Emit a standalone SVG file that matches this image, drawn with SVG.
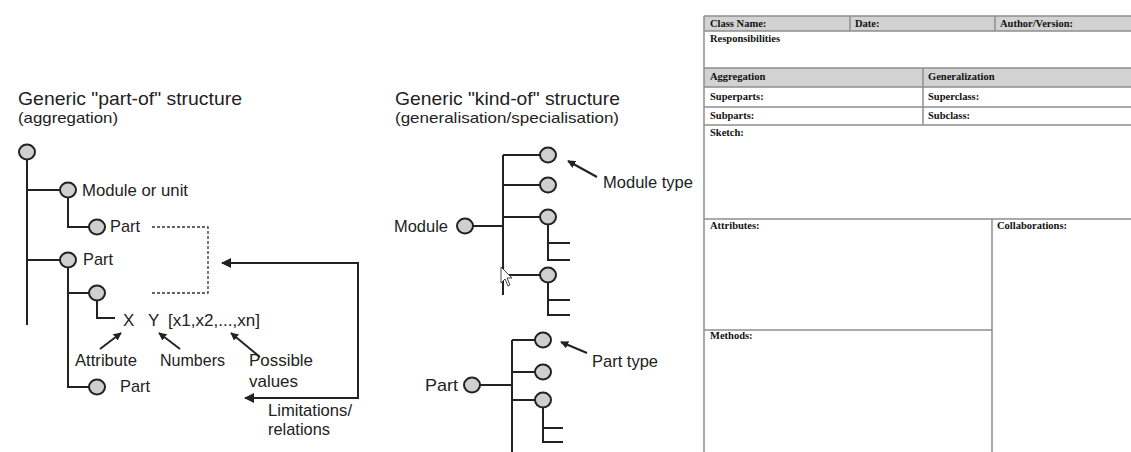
<svg xmlns="http://www.w3.org/2000/svg" width="1131" height="452" viewBox="0 0 1131 452">
<defs>
<style>
.ln{stroke:#222;stroke-width:2;fill:none}
.nd{fill:#cfcfcf;stroke:#222;stroke-width:2}
.t{font-family:"Liberation Sans",Arial,sans-serif;fill:#222}
.lb{font-size:17px}
.h1{font-size:19px}
.h2{font-size:15px}
.tb{font-family:"Liberation Serif","Times New Roman",serif;font-weight:bold;font-size:10.5px;fill:#111}
.grid{stroke:#8e8e8e;stroke-width:1.5;fill:none}
.hdr{fill:#d2d2d2}
</style>
<marker id="ah" viewBox="0 0 10 10" refX="9" refY="5" markerWidth="8" markerHeight="8" orient="auto-start-reverse" markerUnits="userSpaceOnUse">
<path d="M0 0 L10 5 L0 10 z" fill="#222"/>
</marker>
<marker id="ah2" viewBox="0 0 10 10" refX="9" refY="5" markerWidth="14" markerHeight="10" orient="auto-start-reverse" markerUnits="userSpaceOnUse">
<path d="M0 0 L10 5 L0 10 z" fill="#222"/>
</marker>
</defs>
<rect width="1131" height="452" fill="#fff"/>

<!-- Part-of structure -->
<g id="partof-title">
<text class="t h1" x="18" y="105" textLength="224" lengthAdjust="spacingAndGlyphs">Generic "part-of" structure</text>
<text class="t h2" x="18" y="123" textLength="100" lengthAdjust="spacingAndGlyphs">(aggregation)</text>
</g>
<g id="connectors">
<path class="ln" d="M27 159 V325"/>
<path class="ln" d="M27 190 H60"/>
<path class="ln" d="M68 197 V227 H89"/>
<path class="ln" d="M27 260 H60"/>
<path class="ln" d="M68 267 V387 H89"/>
<path class="ln" d="M68 293 H89"/>
<path class="ln" d="M97 300 V318 H115"/>
<path d="M152 227 H208 V293 H152" fill="none" stroke="#333" stroke-width="1.3" stroke-dasharray="3,2"/>
<path class="ln" d="M222 263 H358 V398 H245" marker-start="url(#ah2)" marker-end="url(#ah2)"/>
<path class="ln" d="M100 349 L121 333" marker-end="url(#ah)"/>
<path class="ln" d="M180 349 L159 333" marker-end="url(#ah)"/>
<path class="ln" d="M260 357 L231 333" marker-end="url(#ah)"/>
<!-- kind-of: module -->
<path class="ln" d="M503 155 V295"/>
<path class="ln" d="M503 155 H540"/>
<path class="ln" d="M503 185 H540"/>
<path class="ln" d="M503 217 H540"/>
<path class="ln" d="M503 275 H540"/>
<path class="ln" d="M473 226 H503"/>
<path class="ln" d="M548 225 V260 H570 M548 243 H570"/>
<path class="ln" d="M548 283 V315 H570 M548 300 H570"/>
<path class="ln" d="M597 177 L568 161" marker-end="url(#ah)"/>
<!-- kind-of: part -->
<path class="ln" d="M512 340 V452"/>
<path class="ln" d="M512 340 H535"/>
<path class="ln" d="M512 372 H535"/>
<path class="ln" d="M512 400 H535"/>
<path class="ln" d="M480 385 H512"/>
<path class="ln" d="M543 408 V442 H563 M543 428 H563"/>
<path class="ln" d="M587 353 L561 342" marker-end="url(#ah)"/>
</g>

<g id="n-root"><ellipse class="nd" cx="27" cy="152" rx="8" ry="7.5"/></g>
<g id="n-module"><ellipse class="nd" cx="68" cy="190" rx="8" ry="7.5"/><text class="t lb" x="82" y="196" textLength="106" lengthAdjust="spacingAndGlyphs">Module or unit</text></g>
<g id="n-part1"><ellipse class="nd" cx="97" cy="227" rx="8" ry="7.5"/><text class="t lb" x="110" y="232" textLength="30" lengthAdjust="spacingAndGlyphs">Part</text></g>
<g id="n-part2"><ellipse class="nd" cx="68" cy="260" rx="8" ry="7.5"/><text class="t lb" x="83" y="265" textLength="30" lengthAdjust="spacingAndGlyphs">Part</text></g>
<g id="n-attr"><ellipse class="nd" cx="97" cy="293" rx="8" ry="7.5"/>
<text class="t lb" x="123" y="326">X</text><text class="t lb" x="148" y="326">Y</text><text class="t lb" x="168" y="326" textLength="92" lengthAdjust="spacingAndGlyphs">[x1,x2,...,xn]</text></g>
<g id="n-part3"><ellipse class="nd" cx="97" cy="387" rx="8" ry="7.5"/><text class="t lb" x="120" y="392" textLength="30" lengthAdjust="spacingAndGlyphs">Part</text></g>
<g id="labels-partof">
<text class="t lb" x="75" y="366" textLength="62" lengthAdjust="spacingAndGlyphs">Attribute</text>
<text class="t lb" x="160" y="366" textLength="65" lengthAdjust="spacingAndGlyphs">Numbers</text>
<text class="t lb" x="249" y="366" textLength="64" lengthAdjust="spacingAndGlyphs">Possible</text>
<text class="t lb" x="249" y="387" textLength="49" lengthAdjust="spacingAndGlyphs">values</text>
<text class="t lb" x="268" y="416" textLength="84" lengthAdjust="spacingAndGlyphs">Limitations/</text>
<text class="t lb" x="268" y="435" textLength="62" lengthAdjust="spacingAndGlyphs">relations</text>
</g>

<!-- Kind-of structure -->
<g id="kindof-title">
<text class="t h1" x="395" y="105" textLength="225" lengthAdjust="spacingAndGlyphs">Generic "kind-of" structure</text>
<text class="t h2" x="395" y="123" textLength="224" lengthAdjust="spacingAndGlyphs">(generalisation/specialisation)</text>
</g>
<g id="k-module"><ellipse class="nd" cx="465" cy="226" rx="8" ry="7.5"/><text class="t lb" x="394" y="232" textLength="54" lengthAdjust="spacingAndGlyphs">Module</text></g>
<g id="k-mt1"><ellipse class="nd" cx="548" cy="155" rx="8" ry="7.5"/></g>
<g id="k-mt2"><ellipse class="nd" cx="548" cy="185" rx="8" ry="7.5"/></g>
<g id="k-mt3"><ellipse class="nd" cx="548" cy="217" rx="8" ry="7.5"/></g>
<g id="k-mt4"><ellipse class="nd" cx="548" cy="275" rx="8" ry="7.5"/></g>
<g id="k-mtlabel"><text class="t lb" x="603" y="188" textLength="90" lengthAdjust="spacingAndGlyphs">Module type</text></g>
<g id="k-part"><ellipse class="nd" cx="472" cy="385" rx="8" ry="7.5"/><text class="t lb" x="425" y="391" textLength="33" lengthAdjust="spacingAndGlyphs">Part</text></g>
<g id="k-pt1"><ellipse class="nd" cx="543" cy="340" rx="8" ry="7.5"/></g>
<g id="k-pt2"><ellipse class="nd" cx="543" cy="372" rx="8" ry="7.5"/></g>
<g id="k-pt3"><ellipse class="nd" cx="543" cy="400" rx="8" ry="7.5"/></g>
<g id="k-ptlabel"><text class="t lb" x="592" y="367" textLength="66" lengthAdjust="spacingAndGlyphs">Part type</text></g>
<g id="cursor"><path d="M501 267 V283 L505 279 L508 286 L510 285 L507 278 L512 278 Z" fill="#fff" stroke="#333" stroke-width="0.9"/></g>

<!-- CRC-like card -->
<g id="card">
<rect class="hdr" x="704" y="16" width="430" height="15"/>
<rect class="hdr" x="704" y="68" width="430" height="19"/>
<path class="grid" d="M704 16 H1134 M704 31 H1134 M704 68 H1134 M704 87 H1134 M704 107 H1134 M704 125 H1134 M704 219 H1134 M704 330 H992 M704 16 V452 M850 16 V31 M995 16 V31 M923 68 V125 M992 219 V452"/>
<text class="tb" x="710" y="27">Class Name:</text>
<text class="tb" x="855" y="27">Date:</text>
<text class="tb" x="1000" y="27">Author/Version:</text>
<text class="tb" x="710" y="42">Responsibilities</text>
<text class="tb" x="710" y="80">Aggregation</text>
<text class="tb" x="928" y="80">Generalization</text>
<text class="tb" x="710" y="100">Superparts:</text>
<text class="tb" x="928" y="100">Superclass:</text>
<text class="tb" x="710" y="119">Subparts:</text>
<text class="tb" x="928" y="119">Subclass:</text>
<text class="tb" x="710" y="136">Sketch:</text>
<text class="tb" x="710" y="229">Attributes:</text>
<text class="tb" x="997" y="229">Collaborations:</text>
<text class="tb" x="710" y="339">Methods:</text>
</g>
</svg>
